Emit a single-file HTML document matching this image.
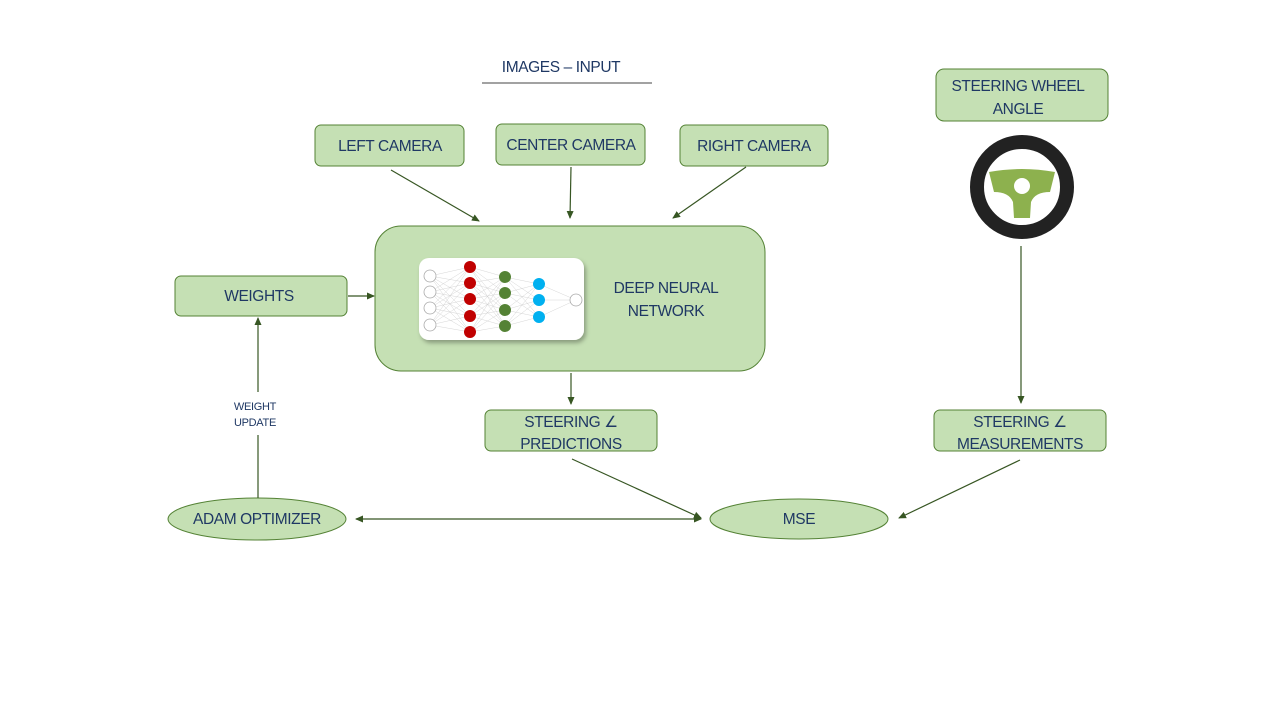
<!DOCTYPE html>
<html><head><style>body{margin:0;background:#fff}svg{display:block}</style></head><body>
<svg width="1280" height="720" xmlns="http://www.w3.org/2000/svg" font-family="Liberation Sans, sans-serif" fill="#1f3864">
<defs>
<marker id="a" markerWidth="8" markerHeight="8" refX="7" refY="4" orient="auto" markerUnits="userSpaceOnUse"><path d="M0,0.5 L8,4 L0,7.5z" fill="#375623"/></marker>
<marker id="b" markerWidth="8" markerHeight="8" refX="1" refY="4" orient="auto" markerUnits="userSpaceOnUse"><path d="M8,0.5 L0,4 L8,7.5z" fill="#375623"/></marker>
<filter id="s"><feDropShadow dx="2" dy="3" stdDeviation="2" flood-opacity="0.3"/></filter>
</defs>
<rect width="1280" height="720" fill="#fff"/>
<text x="561" y="72" font-size="15.5" letter-spacing="-0.4" text-anchor="middle">IMAGES – INPUT</text>
<line x1="482" y1="83" x2="652" y2="83" stroke="#444" stroke-width="1"/>
<g fill="#c5e0b4" stroke="#548235" stroke-width="1">
<rect x="315" y="125" width="149" height="41" rx="6"/>
<rect x="496" y="124" width="149" height="41" rx="6"/>
<rect x="680" y="125" width="148" height="41" rx="6"/>
<rect x="936" y="69" width="172" height="52" rx="8"/>
<rect x="375" y="226" width="390" height="145" rx="26"/>
<rect x="175" y="276" width="172" height="40" rx="6"/>
<rect x="485" y="410" width="172" height="41" rx="6"/>
<rect x="934" y="410" width="172" height="41" rx="6"/>
<ellipse cx="257" cy="519" rx="89" ry="21"/>
<ellipse cx="799" cy="519" rx="89" ry="20"/>
</g>
<g font-size="15.5" letter-spacing="-0.4" text-anchor="middle">
<text x="390" y="151">LEFT CAMERA</text>
<text x="571" y="150">CENTER CAMERA</text>
<text x="754" y="151">RIGHT CAMERA</text>
<text x="1018" y="91">STEERING WHEEL</text>
<text x="1018" y="114">ANGLE</text>
<text x="666" y="293">DEEP NEURAL</text>
<text x="666" y="316">NETWORK</text>
<text x="259" y="301">WEIGHTS</text>
<text x="571" y="427">STEERING ∠</text>
<text x="571" y="449">PREDICTIONS</text>
<text x="1020" y="427">STEERING ∠</text>
<text x="1020" y="449">MEASUREMENTS</text>
<text x="257" y="524">ADAM OPTIMIZER</text>
<text x="799" y="524">MSE</text>
</g>
<g font-size="11" letter-spacing="-0.3" text-anchor="middle">
<text x="255" y="410">WEIGHT</text>
<text x="255" y="426">UPDATE</text>
</g>
<g stroke="#375623" stroke-width="1.2" fill="none">
<line x1="391" y1="170" x2="479" y2="221" marker-end="url(#a)"/>
<line x1="571" y1="167" x2="570" y2="218" marker-end="url(#a)"/>
<line x1="746" y1="167" x2="673" y2="218" marker-end="url(#a)"/>
<line x1="348" y1="296" x2="374" y2="296" marker-end="url(#a)"/>
<line x1="258" y1="392" x2="258" y2="318" marker-end="url(#a)"/>
<line x1="258" y1="498" x2="258" y2="435"/>
<line x1="571" y1="373" x2="571" y2="404" marker-end="url(#a)"/>
<line x1="1021" y1="246" x2="1021" y2="403" marker-end="url(#a)"/>
<line x1="572" y1="459" x2="701" y2="518" marker-end="url(#a)"/>
<line x1="1020" y1="460" x2="899" y2="518" marker-end="url(#a)"/>
<line x1="356" y1="519" x2="701" y2="519" marker-start="url(#b)" marker-end="url(#a)"/>
</g>
<rect x="419" y="258" width="165" height="82" rx="10" fill="#fff" filter="url(#s)"/>
<g stroke="#ccc" stroke-width="0.4">
<path d="M430 276L470 267M430 276L470 283M430 276L470 299M430 276L470 316M430 276L470 332M430 292L470 267M430 292L470 283M430 292L470 299M430 292L470 316M430 292L470 332M430 308L470 267M430 308L470 283M430 308L470 299M430 308L470 316M430 308L470 332M430 325L470 267M430 325L470 283M430 325L470 299M430 325L470 316M430 325L470 332"/>
<path d="M470 267L505 277M470 267L505 293M470 267L505 310M470 267L505 326M470 283L505 277M470 283L505 293M470 283L505 310M470 283L505 326M470 299L505 277M470 299L505 293M470 299L505 310M470 299L505 326M470 316L505 277M470 316L505 293M470 316L505 310M470 316L505 326M470 332L505 277M470 332L505 293M470 332L505 310M470 332L505 326"/>
<path d="M505 277L539 284M505 277L539 300M505 277L539 317M505 293L539 284M505 293L539 300M505 293L539 317M505 310L539 284M505 310L539 300M505 310L539 317M505 326L539 284M505 326L539 300M505 326L539 317M539 284L576 300M539 300L576 300M539 317L576 300"/>
</g>
<g fill="#fff" stroke="#aaa" stroke-width="0.8">
<circle cx="430" cy="276" r="6"/><circle cx="430" cy="292" r="6"/><circle cx="430" cy="308" r="6"/><circle cx="430" cy="325" r="6"/><circle cx="576" cy="300" r="6"/>
</g>
<g fill="#c00000"><circle cx="470" cy="267" r="6"/><circle cx="470" cy="283" r="6"/><circle cx="470" cy="299" r="6"/><circle cx="470" cy="316" r="6"/><circle cx="470" cy="332" r="6"/></g>
<g fill="#548235"><circle cx="505" cy="277" r="6"/><circle cx="505" cy="293" r="6"/><circle cx="505" cy="310" r="6"/><circle cx="505" cy="326" r="6"/></g>
<g fill="#00b0f0"><circle cx="539" cy="284" r="6"/><circle cx="539" cy="300" r="6"/><circle cx="539" cy="317" r="6"/></g>
<circle cx="1022" cy="187" r="45" fill="none" stroke="#222" stroke-width="14"/>
<path d="M989 172 Q1022 166 1055 172 L1050 192 Q1035 192 1031 202 L1030 218 L1014 218 L1013 202 Q1009 192 994 192 Z" fill="#8db14e"/>
<circle cx="1022" cy="186" r="8" fill="#fff"/>
</svg>
</body></html>
